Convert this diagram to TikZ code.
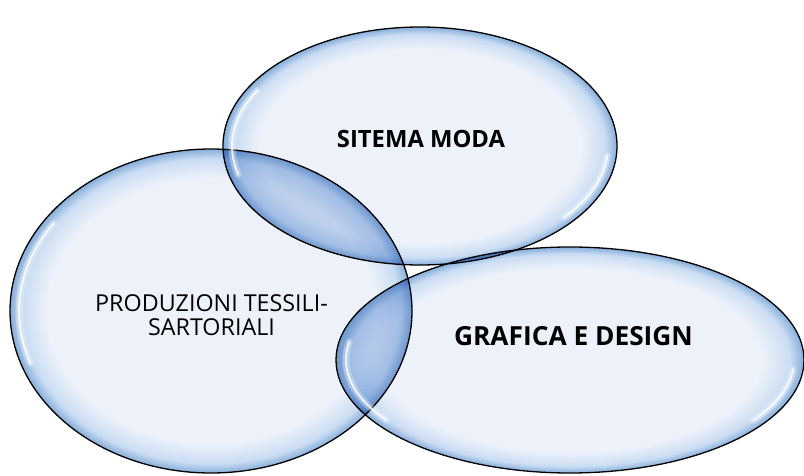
\documentclass[tikz,border=0pt]{standalone}
\usepackage{fontspec}
\setmainfont{Open Sans}
\usetikzlibrary{shapes.geometric, positioning}

\definecolor{bubblein}{RGB}{236,241,250}
\definecolor{bubblemid}{RGB}{202,221,243}
\definecolor{bubbleout}{RGB}{135,174,218}
\definecolor{lensblue}{RGB}{200,218,240}
\pgfdeclareradialshading{bubble}{\pgfpoint{0bp}{0bp}}{%
  color(0bp)=(bubblein); color(20.5bp)=(bubblein); color(23.5bp)=(bubblemid);
  color(25bp)=(bubbleout); color(50bp)=(bubbleout)}

\begin{document}
\begin{tikzpicture}[x=1pt, y=1pt,
	bubble/.style={ellipse, inner sep=0pt, shading=bubble, draw=black, line width=1.3pt, blend mode=multiply},
	lens/.style={fill=lensblue, fill opacity=0.6, blend mode=multiply},
	gloss/.style={white, line width=2pt, line cap=round, opacity=0.8},
	glow/.style={white, line width=7pt, line cap=round, opacity=0.3},
	label/.style={anchor=base, align=center, text=black}]
	\useasboundingbox (0,0) rectangle (804,475);
	\fill[white] (0,0) rectangle (804,475);
	
	\node[bubble, minimum width=402pt, minimum height=324pt] (tess) at (211,164) {};
	\node[bubble, minimum width=394pt, minimum height=238pt] (moda) at (420,329) {};
	\node[bubble, minimum width=468pt, minimum height=226pt] (graf) at (570,115) {};
	
	% zone comuni
	\begin{scope}
		\clip (tess.center) ellipse [x radius=201pt, y radius=162pt];
		\fill[lens] (moda.center) ellipse [x radius=197pt, y radius=119pt];
		\fill[lens] (graf.center) ellipse [x radius=234pt, y radius=113pt];
	\end{scope}
	\begin{scope}
		\clip (moda.center) ellipse [x radius=197pt, y radius=119pt];
		\fill[lens] (graf.center) ellipse [x radius=234pt, y radius=113pt];
	\end{scope}
	
	% riflessi
	\foreach \s in {glow, gloss} {
		\draw[\s] (moda.center) ++(150:188pt and 111pt) arc[start angle=150, end angle=195, x radius=188pt, y radius=111pt];
		\draw[\s] (moda.center) ++(-5:188pt and 111pt) arc[start angle=-5, end angle=-40, x radius=188pt, y radius=111pt];
		\draw[\s] (tess.center) ++(145:192pt and 153pt) arc[start angle=145, end angle=200, x radius=192pt, y radius=153pt];
		\draw[\s] (graf.center) ++(170:224pt and 105pt) arc[start angle=170, end angle=215, x radius=224pt, y radius=105pt];
		\draw[\s] (graf.center) ++(-5:224pt and 105pt) arc[start angle=-5, end angle=-35, x radius=224pt, y radius=105pt];
	}
	
	\node[label, font=\fontsize{23.8}{28}\selectfont\bfseries] (t_moda) at (421,327) {SITEMA MODA};
	\node[label, font=\fontsize{23.3}{24}\selectfont] (t_tess) at (211.5,140) {PRODUZIONI TESSILI-\\SARTORIALI};
	\node[label, font=\fontsize{26.3}{30}\selectfont\bfseries] (t_graf) at (573.5,130) {GRAFICA E DESIGN};
\end{tikzpicture}
\end{document}
